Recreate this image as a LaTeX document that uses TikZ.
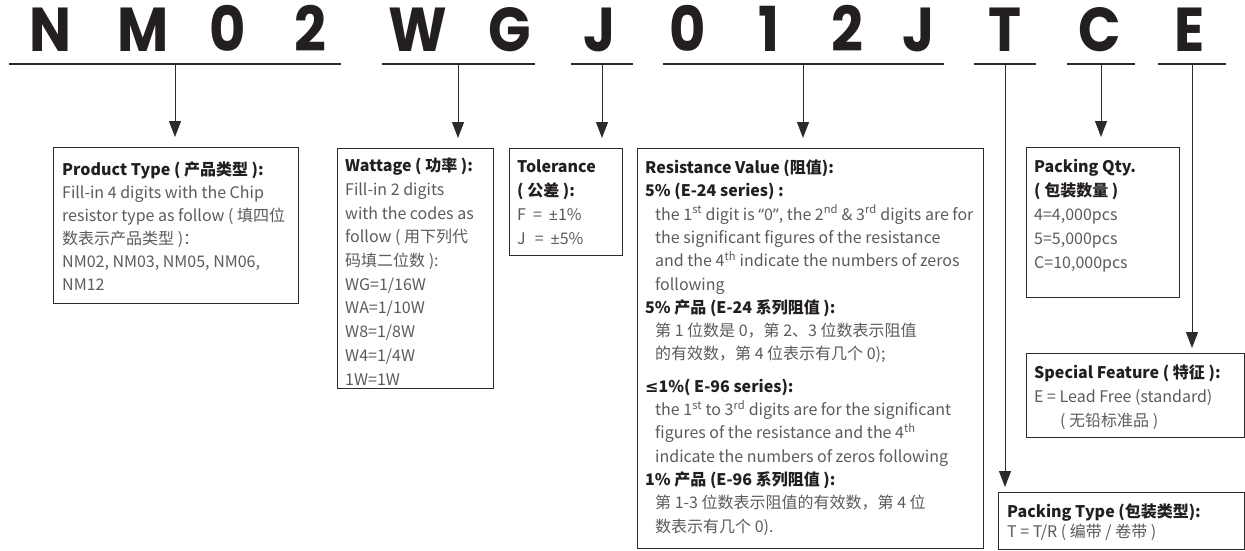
\documentclass[tikz,border=0pt]{standalone}
\usepackage{fontspec}
\setmainfont{Noto Sans CJK SC}
\newfontfamily\codefont{Poppins}[FakeStretch=0.9]
\newfontfamily\latf{Noto Sans}
\newfontfamily\symf{DejaVu Sans}
\usetikzlibrary{arrows.meta}
\definecolor{titlec}{HTML}{231F20}
\definecolor{bodyc}{HTML}{5A5B5D}
\definecolor{linec}{HTML}{2B2B2B}
\tikzset{
  codeletter/.style={anchor=base, inner sep=0pt, text=titlec, font=\codefont\bfseries\fontsize{62}{62}\selectfont},
  underl/.style={draw=linec, line width=1.6pt},
  arr/.style={draw=linec, line width=1pt, -{Triangle[width=12pt,length=16pt]}},
  infobox/.style={draw=linec, line width=1pt, anchor=north west, inner sep=0pt},
  txt/.style={anchor=north west, inner sep=0pt, align=left, text=bodyc}
}
\newcommand{\ttlx}[1]{{\color{titlec}\bfseries #1}}
\begin{document}
\begin{tikzpicture}[x=1pt,y=-1pt]
\useasboundingbox (0,0) rectangle (1245,551);
% code letters
\node[codeletter] (l1) at (50,52) {N};
\node[codeletter] (l2) at (143,52) {M};
\node[codeletter] (l3) at (228,52) {0};
\node[codeletter] (l4) at (310,52) {2};
\node[codeletter] (l5) at (418,52) {W};
\node[codeletter] (l6) at (510,52) {G};
\node[codeletter] (l7) at (600,52) {J};
\node[codeletter] (l8) at (688,52) {0};
\node[codeletter] (l9) at (769,52) {1};
\node[codeletter] (l10) at (847,52) {2};
\node[codeletter] (l11) at (919,52) {J};
\node[codeletter] (l12) at (1005,52) {T};
\node[codeletter] (l13) at (1100,52) {C};
\node[codeletter] (l14) at (1190,52) {E};
% underline segments
\coordinate (s1a) at (9,64);    \coordinate (s1b) at (341,64);  \coordinate (c1) at (175,64);
\coordinate (s2a) at (382,64);  \coordinate (s2b) at (535,64);  \coordinate (c2) at (458,64);
\coordinate (s3a) at (571,64);  \coordinate (s3b) at (633,64);  \coordinate (c3) at (602,64);
\coordinate (s4a) at (663,64);  \coordinate (s4b) at (944,64);  \coordinate (c4) at (803,64);
\coordinate (s5a) at (974,64);  \coordinate (s5b) at (1036,64); \coordinate (c5) at (1005,64);
\coordinate (s6a) at (1067,64); \coordinate (s6b) at (1135,64); \coordinate (c6) at (1101,64);
\coordinate (s7a) at (1158,64); \coordinate (s7b) at (1226,64); \coordinate (c7) at (1192,64);
\foreach \s in {1,...,7} { \draw[underl] (s\s a) -- (s\s b); }
% boxes
\node[infobox, minimum width=245pt, minimum height=156pt] (prodbox) at (53,147) {};
\node[infobox, minimum width=156pt, minimum height=240pt] (wattbox) at (337,148) {};
\node[infobox, minimum width=113pt, minimum height=107pt] (tolbox) at (509,148) {};
\node[infobox, minimum width=346pt, minimum height=400pt] (resbox) at (637,148) {};
\node[infobox, minimum width=153pt, minimum height=150pt] (qtybox) at (1026,147) {};
\node[infobox, minimum width=218pt, minimum height=84pt] (specbox) at (1026,353) {};
\node[infobox, minimum width=246pt, minimum height=57pt] (typebox) at (998,492) {};
% connectors
\draw[arr] (c1) -- ([yshift=10pt]c1 |- prodbox.north);
\draw[arr] (c2) -- ([yshift=10pt]c2 |- wattbox.north);
\draw[arr] (c3) -- ([yshift=10pt]c3 |- tolbox.north);
\draw[arr] (c4) -- ([yshift=10pt]c4 |- resbox.north);
\draw[arr] (c5) -- ([yshift=5pt]c5 |- typebox.north);
\draw[arr] (c6) -- ([yshift=10pt]c6 |- qtybox.north);
\draw[arr] (c7) -- ([yshift=5pt]c7 |- specbox.north);
% texts
\node[txt, font=\fontsize{16}{23}\selectfont] (prodtxt) at (62,159) {\strut\ttlx{Product Type ( 产品类型 ):}\\
Fill-in 4 digits with the Chip\\
resistor type as follow ( 填四位\\
数表示产品类型 )：\\
NM02, NM03, NM05, NM06,\\
NM12};
\node[txt, font=\fontsize{16}{23.7}\selectfont] (watttxt) at (345,155) {\strut\ttlx{Wattage ( 功率 ):}\\
Fill-in 2 digits\\
with the codes as\\
follow ( 用下列代\\
码填二位数 ):\\
WG=1/16W\\
WA=1/10W\\
W8=1/8W\\
W4=1/4W\\
1W=1W};
\node[txt, font=\fontsize{16}{24}\selectfont] (toltxt) at (517,155) {\strut\ttlx{Tolerance}\\
\ttlx{( 公差 ):}\\
F\hspace{7pt}=\hspace{7pt}{\latf ±}1\%\\
J\hspace{9pt}=\hspace{7pt}{\latf ±}5\%};
\node[txt, font=\fontsize{16}{23.3}\selectfont] (restxt) at (645,157) {\strut\ttlx{Resistance Value (阻值):}\\
\ttlx{5\% (E-24 series) :}\\
\hspace*{10pt}the 1\textsuperscript{st} digit is {\latf “}0{\latf ”}, the 2\textsuperscript{nd} \& 3\textsuperscript{rd} digits are for\\
\hspace*{10pt}the significant figures of the resistance\\
\hspace*{10pt}and the 4\textsuperscript{th} indicate the numbers of zeros\\
\hspace*{10pt}following\\
\ttlx{5\% 产品 (E-24 系列阻值 ):}\\
\hspace*{10pt}第 1 位数是 0，第 2、3 位数表示阻值\\
\hspace*{10pt}的有效数，第 4 位表示有几个 0);\\[9pt]
\ttlx{{\symf ≤}1\%( E-96 series):}\\
\hspace*{10pt}the 1\textsuperscript{st} to 3\textsuperscript{rd} digits are for the significant\\
\hspace*{10pt}figures of the resistance and the 4\textsuperscript{th}\\
\hspace*{10pt}indicate the numbers of zeros following\\
\ttlx{1\% 产品 (E-96 系列阻值 ):}\\
\hspace*{10pt}第 1-3 位数表示阻值的有效数，第 4 位\\
\hspace*{10pt}数表示有几个 0).};
\node[txt, font=\fontsize{16}{24}\selectfont] (qtytxt) at (1034,155) {\strut\ttlx{Packing Qty.}\\
\ttlx{( 包装数量 )}\\
4=4,000pcs\\
5=5,000pcs\\
C=10,000pcs};
\node[txt, font=\fontsize{16}{24}\selectfont] (spectxt) at (1034,361) {\strut\ttlx{Special Feature ( 特征 ):}\\
E = Lead Free (standard)\\
\hspace*{26pt}( 无铅标准品 )};
\node[txt, font=\fontsize{16}{20}\selectfont] (typetxt) at (1007,503) {\strut\ttlx{Packing Type (包装类型):}\\
T = T/R ( 编带 / 卷带 )};
\end{tikzpicture}
\end{document}
